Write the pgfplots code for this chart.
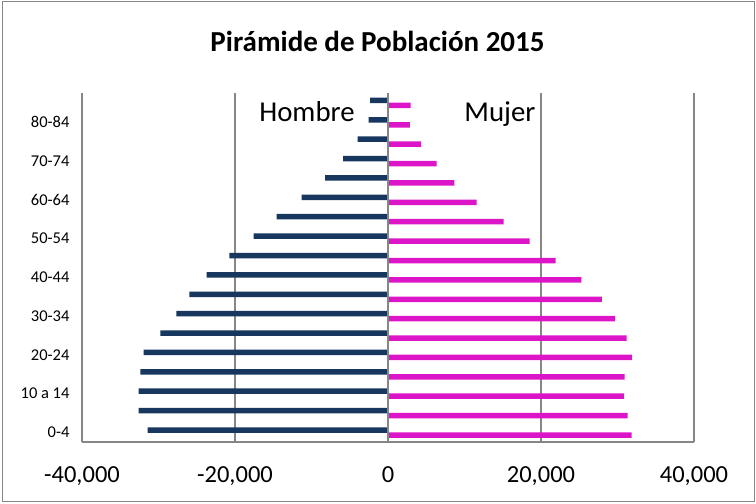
\documentclass[border=0pt]{standalone}
\usepackage{pgfplots}
\pgfplotsset{compat=1.18}
\usepackage{fontspec}
\setmainfont{Carlito}
\definecolor{hombre}{RGB}{23,55,94}
\definecolor{mujer}{RGB}{220,22,200}
\definecolor{gridgray}{RGB}{134,134,134}
\begin{document}
\begin{tikzpicture}[x=1pt,y=1pt]
\useasboundingbox (0,0) rectangle (756,504);
\draw[gridgray, line width=1pt] (2,2) rectangle (754,502);
\node[anchor=base, font=\bfseries\fontsize{29}{34}\selectfont] at (377.5,452.3) {Pirámide de Población 2015};
\begin{axis}[
  at={(82pt,62pt)}, anchor=south west,
  scale only axis, width=612pt, height=349pt,
  xbar, bar width=5.5pt,
  xmin=-40000, xmax=40000,
  ymin=-0.5, ymax=17.5,
  scaled x ticks=false,
  xtick={-40000,-20000,0,20000,40000},
  xticklabels={{-40,000},{-20,000},{0},{20,000},{40,000}},
  ytick={0,2,4,6,8,10,12,14,16},
  yticklabels={0-4,10 a 14,20-24,30-34,40-44,50-54,60-64,70-74,80-84},
  xmajorgrids, grid style={gridgray, line width=1.2pt},
  axis x line*=bottom, axis y line*=left,
  axis line style={gridgray, line width=1.2pt, -},
  major tick length=0pt,
  x tick label style={font=\fontsize{24.5}{28}\selectfont, yshift=-21pt},
  y tick label style={font=\fontsize{16.5}{19}\selectfont, xshift=-9pt},
  clip=false,
]
\addplot[draw=none, fill=hombre, bar shift=2.3pt] coordinates {
(-31410,0) (-32590,1) (-32590,2) (-32370,3) (-31940,4) (-29760,5) (-27670,6) (-25970,7) (-23700,8) (-20740,9) (-17560,10) (-14550,11) (-11280,12) (-8235,13) (-5880,14) (-3965,15) (-2530,16) (-2350,17)
};
\addplot[draw=none, fill=mujer, bar shift=-2.7pt] coordinates {
(31850,0) (31330,1) (30850,2) (30940,3) (31900,4) (31200,5) (29670,6) (27970,7) (25270,8) (21920,9) (18520,10) (15120,11) (11590,12) (8670,13) (6360,14) (4310,15) (2875,16) (2960,17)
};
\draw[gridgray, line width=1.2pt] (axis cs:0,-0.5) -- (axis cs:0,17.5);
\end{axis}
\node[anchor=base, font=\fontsize{28.8}{32}\selectfont] at (307,382.3) {Hombre};
\node[anchor=base, font=\fontsize{28.8}{32}\selectfont] at (500,382.3) {Mujer};
\end{tikzpicture}
\end{document}
